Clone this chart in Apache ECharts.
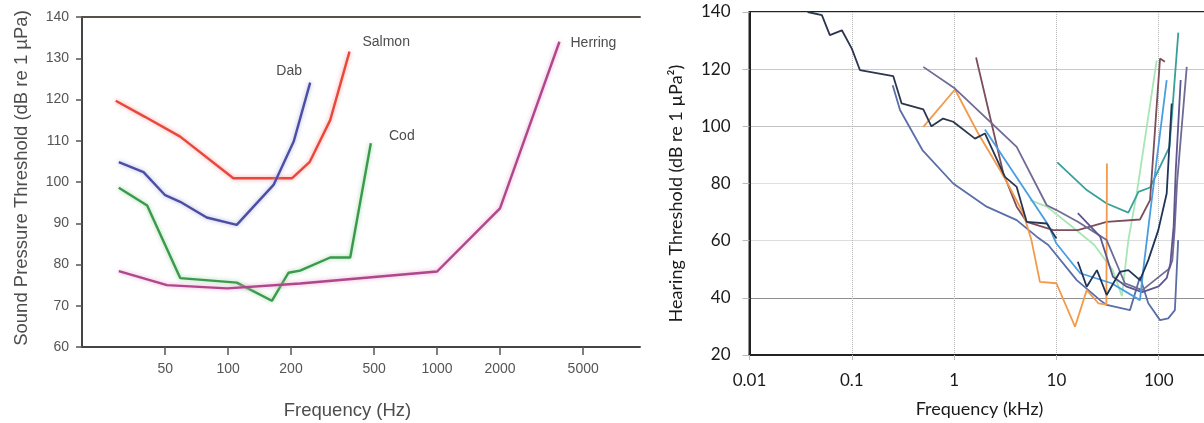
<!DOCTYPE html>
<html><head><meta charset="utf-8">
<script src="https://cdn.jsdelivr.net/npm/echarts@6/dist/echarts.min.js"></script>
<style>html,body{margin:0;padding:0;background:#fff}#c{width:1204px;height:423px}</style>
</head><body><div id="c"></div>
<script>
// ---------- Left chart data (Hz, dB re 1 µPa) ----------
const leftNames = ['Salmon', 'Dab', 'Cod', 'Herring'];
const salmon = [[29,119.7],[40,115.8],[59,111],[106,100.9],[202,100.9],[246,104.9],[308,115],[381,131.6]];
const dab = [[30,104.8],[39.4,102.4],[50,96.8],[59,95.2],[79,91.4],[110,89.6],[165,99.3],[206,109.8],[247,124.1]];
const cod = [[30,98.6],[41,94.3],[59,76.7],[110,75.6],[162,71.2],[194.5,78],[221,78.5],[308,81.7],[384,81.7],[482,109.4]];
const herring = [[30,78.4],[51,75],[99,74.2],[221,75.4],[1000,78.3],[2000,93.6],[3850,134]];
const leftXTicks = [50, 100, 200, 500, 1000, 2000, 5000];
const leftYMin = 60, leftYMax = 140, leftYStep = 10;
const leftXMinHz = 20;

// ---------- Right chart data (kHz, dB re 1 µPa²) ----------
const rA = [[0.037,140],[0.051,138.9],[0.061,131.9],[0.08,133.6],[0.1,127.2],[0.12,119.7],[0.254,117.6],[0.307,108],[0.5,105.9],[0.6,100],[0.78,102.7],[0.98,101.6],[1.6,95.7],[2.0,97.5],[3.14,82.3],[4.09,78.8],[5.12,66.6],[8.04,66],[10,60.8]];
const rB = [[0.251,114.4],[0.296,105.7],[0.49,91.7],[0.98,80],[2.08,71.9],[4.09,67.2],[6.42,61.4],[8.33,58.5],[15.8,46.2],[26.7,39.2],[31,37.5],[52.4,35.7],[65.6,47.3],[79.1,38.1],[103,32.2],[124,32.8],[144,35.7],[155,60.2]];
const rC = [[0.5,99.8],[1.02,112.9],[1.72,97.5],[2.81,84.7],[3.27,80.6],[4.75,69.5],[5.7,60.2],[6.9,45.6],[10,45.1],[15.2,29.9],[19.8,42.7],[25.7,38.1],[28.8,37.8],[30.8,37.6],[31.2,87]];
const rD = [[0.5,120.8],[1.02,113.2],[4.09,92.8],[8.04,72.4],[10,70.7],[16.2,66.6],[31,60.2],[46.7,45.1],[69,42.7],[91.5,46.2],[127.5,50.3],[136,53.2],[143,63.7],[151,80],[188,120.8]];
const rE = [[16.2,69.6],[26.8,61.4],[35.7,47.4],[48.8,43.9],[69,42],[100,44],[120,47],[130,52],[140,65],[147,85],[164,116.2]];
const rF = [[10.2,87.4],[19.8,77.7],[31,73],[50.5,69.8],[63.4,77.1],[82.3,78.6],[127.5,92.8],[155.5,132.8]];
const rG = [[5.52,74.2],[8.04,71.9],[13.6,65.5],[23.5,58.5],[35.5,49.7],[43.7,40.6],[50.5,60.2],[61,76.5],[95.6,123.1]];
const rH = [[1.64,124.1],[3.03,83.5],[4.09,71.9],[5.12,66.6],[9.33,63.7],[16.2,63.7],[31,66.6],[65.6,67.4],[82.3,74.2],[103,123.7],[115,122.6]];
const rI = [[2.0,98.9],[8.33,65.5],[10,59],[17.1,48.6],[34.6,45.1],[65.6,39.2],[70.6,49.7],[85.4,74.2],[119.7,116.2]];
const rJ = [[16.2,52.6],[19.8,43.9],[24.9,49.7],[31,41],[41.8,49.1],[50.5,49.7],[65.6,46.2],[79.1,53.2],[99.1,63.7],[119.7,76.5],[134,108]];
const rightSeries = [rB, rG, rF, rH, rC, rD, rE, rI, rJ, rA];
const rightColors = ['#5a6ea8', '#a8e6b4', '#3aa09c', '#7b4e5c', '#f29a4a', '#6f6b95', '#5d5690', '#4a9de2', '#1f3459', '#2b3550'];
const rightYMin = 20, rightYMax = 140, rightYStep = 20;
const rightXMin = 0.01, rightXMax = 1000;

// ---------- build ----------
const lg = Math.log10;
const LMIN = lg(leftXMinHz);
const LMAX = LMIN + 558 / 209;
const leftData = [salmon, dab, cod, herring];
const leftColors = ['#e8483b', '#4b4fa3', '#3a9a4c', '#b0468c'];
const leftHalo = ['rgba(245,150,150,0.9)', 'rgba(170,170,225,0.9)', 'rgba(150,210,160,0.9)', 'rgba(225,160,200,0.9)'];
const lfont = 'Liberation Sans';
const rfont = 'Lato';

const chart = echarts.init(document.getElementById('c'), null, {renderer: 'canvas'});

const series = [];
leftData.forEach((d, i) => {
  series.push({
    name: leftNames[i], type: 'line', xAxisIndex: 0, yAxisIndex: 0,
    data: d.map(p => [lg(p[0]), p[1]]), showSymbol: false, silent: true,
    lineStyle: {color: leftColors[i], width: 2.4, shadowColor: leftHalo[i], shadowBlur: 4},
    z: 3
  });
});
rightSeries.forEach((d, i) => {
  series.push({
    name: 'Species ' + (i + 1), type: 'line', xAxisIndex: 2, yAxisIndex: 1,
    data: d, showSymbol: false, silent: true,
    lineStyle: {color: rightColors[i], width: 1.8},
    z: 3
  });
});

const option = {
  animation: false,
  backgroundColor: '#fff',
  grid: [
    {left: 82, top: 17, width: 558, height: 330, show: false, containLabel: false, outerBoundsMode: 'none'},
    {left: 749.5, top: 12, width: 511.5, height: 343, show: true, borderColor: '#222', borderWidth: 2, backgroundColor: 'transparent', containLabel: false, outerBoundsMode: 'none'}
  ],
  xAxis: [
    {gridIndex: 0, type: 'value', min: LMIN, max: LMAX, position: 'bottom',
     axisLine: {show: true, onZero: false, lineStyle: {color: '#454545', width: 2}},
     axisTick: {show: true, customValues: leftXTicks.map(lg), length: 8, lineStyle: {color: '#555', width: 1.5}},
     axisLabel: {customValues: leftXTicks.map(lg), formatter: v => String(Math.round(Math.pow(10, v))), color: '#555', fontSize: 14, margin: 15, fontFamily: lfont},
     splitLine: {show: false}},
    {gridIndex: 0, type: 'value', min: LMIN, max: LMAX, position: 'top',
     axisLine: {show: true, onZero: false, lineStyle: {color: '#57514c', width: 2}},
     axisTick: {show: false}, axisLabel: {show: false}, splitLine: {show: false}},
    {gridIndex: 1, type: 'log', logBase: 10, min: rightXMin, max: rightXMax, splitNumber: 5, position: 'bottom',
     axisLine: {show: true, onZero: false, lineStyle: {color: '#222', width: 2}},
     axisTick: {show: true, length: 5, lineStyle: {color: '#bbb'}},
     axisLabel: {color: '#1a1a1a', fontSize: 17, margin: 17, fontFamily: rfont, formatter: v => String(v)},
     splitLine: {show: true, lineStyle: {color: '#b5b5b5', type: 'dotted', width: 1}}}
  ],
  yAxis: [
    {gridIndex: 0, type: 'value', min: leftYMin, max: leftYMax, interval: leftYStep,
     axisLine: {show: true, onZero: false, lineStyle: {color: '#454545', width: 2}},
     axisTick: {show: true, length: 6, lineStyle: {color: '#555', width: 1.5}},
     axisLabel: {color: '#555', fontSize: 14, margin: 13, fontFamily: lfont},
     splitLine: {show: false}},
    {gridIndex: 1, type: 'value', min: rightYMin, max: rightYMax, interval: rightYStep,
     axisLine: {show: true, onZero: false, lineStyle: {color: '#222', width: 2}},
     axisTick: {show: true, length: 7, lineStyle: {color: '#bbb'}},
     axisLabel: {color: '#1a1a1a', fontSize: 17, margin: 19, fontFamily: rfont},
     splitLine: {show: true, lineStyle: {color: ['#ccc', '#8f8f8f', '#dcdcdc', '#e0e0e0', '#c2c2c2', '#c8c8c8', '#ccc'], width: 1}}}
  ],
  series: series
};
chart.setOption(option);

// titles and curve labels
const labelOffsets = [[36.7, -10], [-21, -11], [31, -7.3], [34, 1.6]];
const graphics = [
  {type: 'text', x: 22, y: 178, rotation: Math.PI / 2,
   style: {text: 'Sound Pressure Threshold (dB re 1 µPa)', font: '18.5px "Liberation Sans"', fill: '#4d4d4d', align: 'center', verticalAlign: 'middle'}},
  {type: 'text', x: 347.5, y: 411,
   style: {text: 'Frequency (Hz)', font: '18.5px "Liberation Sans"', fill: '#4d4d4d', align: 'center', verticalAlign: 'middle'}},
  {type: 'text', x: 676, y: 193.5, rotation: Math.PI / 2,
   style: {text: 'Hearing Threshold (dB re 1 µPa²)', font: '18px Lato', fill: '#1a1a1a', align: 'center', verticalAlign: 'middle'}},
  {type: 'text', x: 979.5, y: 409,
   style: {text: 'Frequency (kHz)', font: '18px Lato', fill: '#1a1a1a', align: 'center', verticalAlign: 'middle'}}
];
leftData.forEach((d, i) => {
  const last = d[d.length - 1];
  const px = chart.convertToPixel({xAxisIndex: 0, yAxisIndex: 0}, [lg(last[0]), last[1]]);
  graphics.push({type: 'text', x: px[0] + labelOffsets[i][0], y: px[1] + labelOffsets[i][1],
    style: {text: leftNames[i], font: '14px "Liberation Sans"', fill: '#4d4d4d', align: 'center', verticalAlign: 'middle'}});
});
chart.setOption({graphic: graphics});
</script>
</body></html>
